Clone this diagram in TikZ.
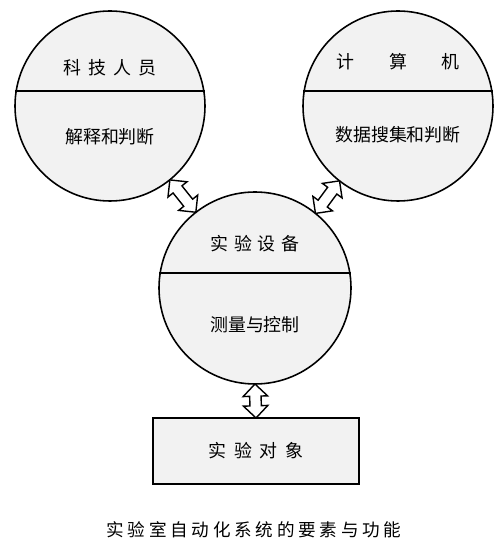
\documentclass[tikz,border=0pt]{standalone}
\usepackage{fontspec}
\newfontfamily\cjk{Noto Sans CJK SC}
\usetikzlibrary{positioning,shapes.arrows}
\definecolor{pale}{HTML}{F2F2F2}
\tikzset{
  ring/.style={circle,draw,line width=0.9pt,fill=pale,minimum size=3.8cm,inner sep=0pt},
  objbox/.style={rectangle,draw,line width=0.9pt,fill=pale,minimum width=4.12cm,minimum height=1.32cm},
  lbl/.style={font=\cjk\fontsize{10.2}{12}\selectfont,inner sep=1pt},
  dblarrow/.style={double arrow,draw,line width=0.8pt,fill=white,inner xsep=0pt,inner ysep=1mm,
    double arrow head extend=1.3mm,sloped,midway},
}

\begin{document}
\begin{tikzpicture}
\useasboundingbox (0,0) rectangle (10,10.94);
% three circles
\node[ring] (pers) at (2.2,8.82) {};
\node[ring] (comp) at (7.96,8.82) {};
\node[ring,minimum size=3.84cm] (dev) at (5.1,5.18) {};
\draw[line width=0.8pt] (pers.171) -- (pers.9);
\draw[line width=0.8pt] (comp.171) -- (comp.9);
\draw[line width=0.8pt] (dev.171) -- (dev.9);
\node[lbl] (pers-t) at ([yshift=7.6mm]pers.center) {科\hspace{1.4mm}技\hspace{1.4mm}人\hspace{1.4mm}员};
\node[lbl] (pers-b) at ([yshift=-6.2mm]pers.center) {解释和判断};
\node[lbl] (comp-t) at ([yshift=8.8mm]comp.center) {计\hspace{7mm}算\hspace{7mm}机};
\node[lbl] (comp-b) at ([yshift=-5.8mm]comp.center) {数据搜集和判断};
\node[lbl] (dev-t) at ([yshift=8.8mm]dev.center) {实\hspace{1.1mm}验\hspace{1.1mm}设\hspace{1.1mm}备};
\node[lbl] (dev-b) at ([yshift=-7.4mm]dev.center) {测量与控制};
% object box
\node[objbox] (obj) at (5.12,1.92) {};
\node[lbl] (obj-t) at (obj.center) {实\hspace{1.5mm}验\hspace{1.5mm}对\hspace{1.5mm}象};
% hollow arrows
\path (pers.-51.5) -- node[dblarrow,minimum height=8.3mm] (a1) {} (dev.128.5);
\path (comp.-128.2) -- node[dblarrow,minimum height=8.1mm] (a2) {} (dev.51.8);
\path (dev.south) -- node[dblarrow,minimum height=6.8mm] (a3) {} (obj.north);
% caption
\node[lbl,font=\cjk\fontsize{10}{12}\selectfont] (cap) at (5.08,0.34)
  {实\hspace{0.75mm}验\hspace{0.75mm}室\hspace{0.75mm}自\hspace{0.75mm}动\hspace{0.75mm}化\hspace{0.75mm}系\hspace{0.75mm}统\hspace{0.75mm}的\hspace{0.75mm}要\hspace{0.75mm}素\hspace{0.75mm}与\hspace{0.75mm}功\hspace{0.75mm}能};
\end{tikzpicture}
\end{document}
